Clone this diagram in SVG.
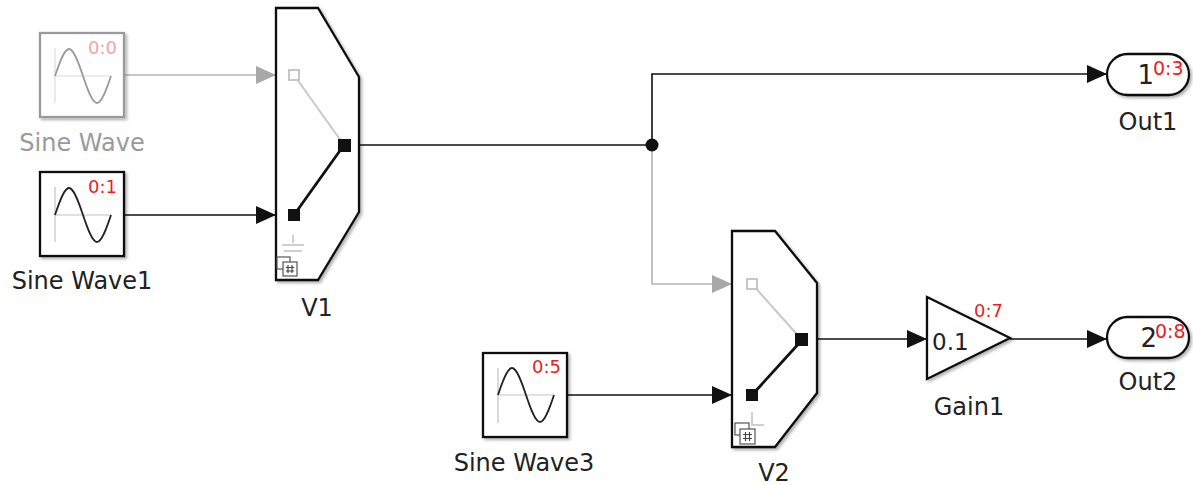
<svg xmlns="http://www.w3.org/2000/svg" width="1193" height="485" viewBox="0 0 1193 485">
<defs>
<style>
text{font-family:"DejaVu Sans","Liberation Sans",sans-serif;}
.lbl{font-size:24px;fill:#222;text-anchor:middle;}
.lblg{font-size:24px;fill:#9a9a9a;text-anchor:middle;}
.red{font-size:18px;fill:#f01c1c;}
.redg{font-size:18px;fill:#f4a3a3;}
.blk{fill:#fff;stroke:#111;stroke-width:2.3;}
.blkg{fill:#fff;stroke:#9a9a9a;stroke-width:2.3;}
.axis{fill:none;stroke:#c4c4c4;stroke-width:1.2;}
.axisg{fill:none;stroke:#dcdcdc;stroke-width:1.2;}
.wave{fill:none;stroke:#222;stroke-width:1.8;}
.waveg{fill:none;stroke:#9a9a9a;stroke-width:1.8;}
.wire{fill:none;stroke:#111;stroke-width:1.6;}
.wireg{fill:none;stroke:#b4b4b4;stroke-width:1.6;}
.sw{fill:none;stroke:#111;stroke-width:2.8;}
.swg{fill:none;stroke:#c8c8c8;stroke-width:2;}
.port{fill:#111;}
.portg{fill:#fff;stroke:#c0c0c0;stroke-width:1.8;}
.icon{fill:#fff;stroke:#555;stroke-width:1.2;}
.hash{stroke:#444;stroke-width:1.2;}
.gnd{stroke:#cfcfcf;stroke-width:2;fill:none;}
</style>
<filter id="sh" x="-10%" y="-10%" width="130%" height="130%">
<feDropShadow dx="2" dy="2" stdDeviation="1.5" flood-color="#000" flood-opacity="0.3"/>
</filter>
<marker id="ar" viewBox="0 0 20 18" refX="20" refY="9" markerWidth="20" markerHeight="18" markerUnits="userSpaceOnUse" orient="auto">
<path d="M0,0 L20,9 L0,18 z" fill="#111"/>
</marker>
<marker id="arg" viewBox="0 0 20 18" refX="20" refY="9" markerWidth="20" markerHeight="18" markerUnits="userSpaceOnUse" orient="auto">
<path d="M0,0 L20,9 L0,18 z" fill="#a8a8a8"/>
</marker>
<path id="sinewave" d="M0,0 C4.57,-13.8 9.4,-27 14,-27 C18.6,-27 23.43,-13.8 28,0 C32.57,13.8 37.4,27 42,27 C46.6,27 51.43,13.8 56,0"/>
</defs>
<rect width="1193" height="485" fill="#fff"/>

<g id="connectors">
<path class="wireg" d="M124,75 H276" marker-end="url(#arg)"/>
<path class="wire" d="M124,215 H276" marker-end="url(#ar)"/>
<path class="wire" d="M359,145 H652"/>
<path class="wire" d="M652,145 V74 H1107" marker-end="url(#ar)"/>
<path class="wireg" d="M652,145 V284 H732" marker-end="url(#arg)"/>
<path class="wire" d="M567,395 H732" marker-end="url(#ar)"/>
<path class="wire" d="M817,339 H927" marker-end="url(#ar)"/>
<path class="wire" d="M1010,339 H1107" marker-end="url(#ar)"/>
<circle cx="652" cy="145" r="6.5" fill="#111"/>
</g>

<g id="SineWave">
<rect class="blkg" x="40" y="33" width="84" height="84" filter="url(#sh)"/>
<path class="axisg" d="M55,48 V103 M55,76 H111"/>
<use href="#sinewave" class="waveg" x="55" y="76"/>
<text class="redg" x="117" y="54" text-anchor="end">0:0</text>
<text class="lblg" x="82" y="151">Sine Wave</text>
</g>

<g id="SineWave1">
<rect class="blk" x="40" y="172" width="84" height="84" filter="url(#sh)"/>
<path class="axis" d="M55,187 V242 M55,215 H111"/>
<use href="#sinewave" class="wave" x="55" y="215"/>
<text class="red" x="117" y="193" text-anchor="end">0:1</text>
<text class="lbl" x="82" y="289">Sine Wave1</text>
</g>

<g id="V1">
<polygon class="blk" points="276,8 318,8 359,77 359,212 318,280 276,280" filter="url(#sh)"/>
<path class="swg" d="M294,75 L344,145"/>
<path class="sw" d="M294,215 L344,145"/>
<rect class="portg" x="289" y="70" width="10" height="10"/>
<rect class="port" x="288" y="209" width="12" height="12"/>
<rect class="port" x="338" y="139" width="13" height="13"/>
<path class="gnd" d="M293,235 V243 M282,245 H304 M284,251 H302"/>
<rect class="icon" x="277" y="257" width="13" height="12"/>
<rect class="icon" x="283" y="262" width="14" height="14"/>
<path class="hash" d="M288,265 V273 M292,265 V273 M286,267.5 H294 M286,271 H294"/>
<text class="lbl" x="317" y="316">V1</text>
</g>

<g id="SineWave3">
<rect class="blk" x="483" y="353" width="84" height="84" filter="url(#sh)"/>
<path class="axis" d="M498,368 V423 M498,395 H554"/>
<use href="#sinewave" class="wave" x="498" y="395"/>
<text class="red" x="561" y="373" text-anchor="end">0:5</text>
<text class="lbl" x="524" y="471">Sine Wave3</text>
</g>

<g id="V2">
<polygon class="blk" points="732,231 775,231 817,283 817,393 775,447 732,447" filter="url(#sh)"/>
<path class="swg" d="M752,284 L802,340"/>
<path class="sw" d="M752,395 L802,340"/>
<rect class="portg" x="747" y="279" width="10" height="10"/>
<rect class="port" x="746" y="389" width="12" height="12"/>
<rect class="port" x="795" y="333" width="13" height="13"/>
<path class="gnd" d="M752,412 V425 H764"/>
<rect class="icon" x="735" y="423" width="14" height="12"/>
<rect class="icon" x="740" y="429" width="15" height="15"/>
<path class="hash" d="M745.5,432 V441 M749.5,432 V441 M743,434.5 H752 M743,438.5 H752"/>
<text class="lbl" x="774" y="481">V2</text>
</g>

<g id="Gain1">
<polygon class="blk" points="927,297 1010,338 927,379" filter="url(#sh)"/>
<text x="932" y="350" style="font-size:23px;fill:#222">0.1</text>
<text class="red" x="974" y="317">0:7</text>
<text class="lbl" x="969" y="415">Gain1</text>
</g>

<g id="Out1">
<rect class="blk" x="1107" y="54" width="82" height="41" rx="20.5" filter="url(#sh)"/>
<text x="1154" y="84" text-anchor="end" style="font-size:26px;fill:#222">1</text>
<text class="red" x="1153" y="75" style="font-size:19px">0:3</text>
<text class="lbl" x="1148" y="130">Out1</text>
</g>

<g id="Out2">
<rect class="blk" x="1107" y="317" width="82" height="41" rx="20.5" filter="url(#sh)"/>
<text x="1157" y="347" text-anchor="end" style="font-size:26px;fill:#222">2</text>
<text class="red" x="1155" y="338" style="font-size:19px">0:8</text>
<text class="lbl" x="1148" y="390">Out2</text>
</g>
</svg>
